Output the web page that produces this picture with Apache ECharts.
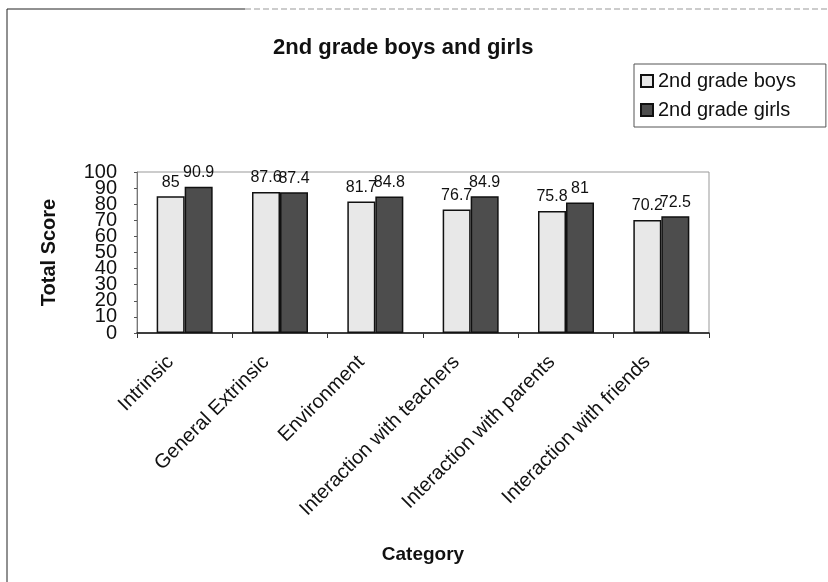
<!DOCTYPE html>
<html>
<head>
<meta charset="utf-8">
<script src="https://cdn.jsdelivr.net/npm/echarts@6/dist/echarts.min.js"></script>
<style>
  html, body { margin: 0; padding: 0; background: #fff; }
  #main { width: 828px; height: 582px; }
</style>
</head>
<body>
<div id="main"></div>
<script>
var categories = ['Intrinsic', 'General Extrinsic', 'Environment', 'Interaction with teachers', 'Interaction with parents', 'Interaction with friends'];
var boys = [85, 87.6, 81.7, 76.7, 75.8, 70.2];
var girls = [90.9, 87.4, 84.8, 84.9, 81, 72.5];
var seriesNames = ['2nd grade boys', '2nd grade girls'];
// tick labels, split over two overlaid axes so the crowded labels all stay visible
var evenTicks = [0, 20, 40, 60, 80, 100];
var oddTicks = [10, 30, 50, 70, 90];

var font = 'Liberation Sans, Arial, sans-serif';

var chart = echarts.init(document.getElementById('main'));

var tickLabel = { fontSize: 20, color: '#111', margin: 20, hideOverlap: false };

var option = {
  animation: false,
  textStyle: { fontFamily: font },
  // outer frame of the chart (left + top edges only, like the scan)
  graphic: [
    { type: 'line', shape: { x1: 7, y1: 9, x2: 7, y2: 600 }, style: { stroke: '#222', lineWidth: 1 } },
    { type: 'line', shape: { x1: 7, y1: 9, x2: 245, y2: 9 }, style: { stroke: '#222', lineWidth: 1 } },
    { type: 'line', shape: { x1: 245, y1: 9, x2: 828, y2: 9 }, style: { stroke: '#999', lineWidth: 1, lineDash: [6, 3] } }
  ],
  title: {
    text: '2nd grade boys and girls',
    left: 268,
    top: 32,
    textStyle: { fontSize: 22, fontWeight: 'bold', color: '#111', fontFamily: font }
  },
  legend: {
    data: seriesNames,
    orient: 'vertical',
    left: 634,
    top: 64,
    padding: [7, 30, 7, 6],
    itemGap: 9,
    itemWidth: 12,
    itemHeight: 12,
    icon: 'rect',
    borderColor: '#555',
    borderWidth: 1,
    backgroundColor: '#fff',
    textStyle: { fontSize: 20, color: '#111' }
  },
  grid: {
    left: 137,
    right: 119,
    top: 172,
    bottom: 249,
    show: true,
    borderColor: '#999',
    borderWidth: 1
  },
  xAxis: {
    type: 'category',
    data: categories,
    name: 'Category',
    nameLocation: 'middle',
    nameGap: 212,
    nameTextStyle: { fontSize: 19, fontWeight: 'bold', color: '#111' },
    axisLine: { lineStyle: { color: '#111', width: 1.5 } },
    axisTick: { show: true, length: 5, lineStyle: { color: '#333' } },
    axisLabel: { rotate: 45, fontSize: 20, color: '#111', margin: 12, interval: 0, padding: [0, 20, 0, 0] }
  },
  yAxis: [
    {
      type: 'value',
      position: 'left',
      min: 0,
      max: 100,
      interval: 10,
      name: 'Total Score',
      nameLocation: 'middle',
      nameGap: 78,
      nameTextStyle: { fontSize: 20, fontWeight: 'bold', color: '#111' },
      axisLine: { show: true, lineStyle: { color: '#777' } },
      axisTick: { show: true, length: 3, lineStyle: { color: '#555' } },
      axisLabel: Object.assign({ customValues: evenTicks, showMinLabel: true, showMaxLabel: true }, tickLabel),
      splitLine: { show: false }
    },
    {
      type: 'value',
      position: 'left',
      offset: 0,
      min: 0,
      max: 100,
      interval: 10,
      axisLine: { show: false },
      axisTick: { show: false },
      axisLabel: Object.assign({ customValues: oddTicks }, tickLabel),
      splitLine: { show: false }
    }
  ],
  series: [
    {
      name: seriesNames[0],
      type: 'bar',
      data: boys,
      barWidth: 28,
      barGap: '0%',
      itemStyle: { color: '#e8e8e8', borderColor: '#111', borderWidth: 1.5 },
      label: { show: true, position: 'top', fontSize: 16, color: '#111', distance: 6 }
    },
    {
      name: seriesNames[1],
      type: 'bar',
      data: girls,
      barWidth: 28,
      itemStyle: { color: '#4d4d4d', borderColor: '#111', borderWidth: 1.5 },
      label: { show: true, position: 'top', fontSize: 16, color: '#111', distance: 6 }
    }
  ]
};

chart.setOption(option);
</script>
</body>
</html>
